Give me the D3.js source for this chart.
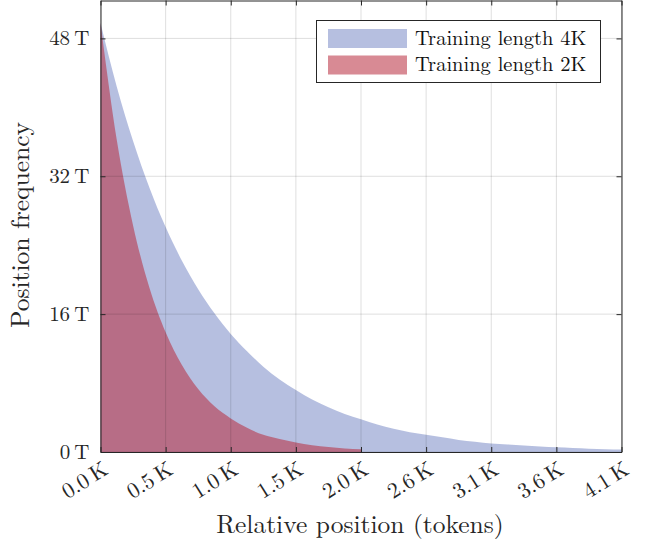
<!DOCTYPE html>
<html>
<head>
<meta charset="utf-8">
<script src="https://cdn.jsdelivr.net/npm/d3@7"></script>
<style>
  body { margin: 0; background: #fff; }
</style>
</head>
<body>
<div id="chart"></div>
<script>
// Data (tokens, trillions)
var positions4k = [0, 128, 256, 384, 512, 640, 768, 896, 1024, 1152, 1280, 1408, 1536, 1664, 1792, 1920, 2048,
    2176, 2304, 2432, 2560, 2688, 2816, 2944, 3072, 3200, 3328, 3456, 3584, 3712, 3840, 3968, 4096];
var freq4k = [49.8, 42.4, 36.1, 30.7, 26.1, 22.2, 18.9, 16.1, 13.7, 11.7, 9.9, 8.4, 7.2, 6.1, 5.2, 4.4, 3.8,
    3.2, 2.7, 2.3, 2.0, 1.7, 1.4, 1.2, 1.0, 0.87, 0.74, 0.63, 0.54, 0.46, 0.39, 0.33, 0.28];

var positions2k = [0, 128, 256, 384, 512, 640, 768, 896, 1024, 1152, 1280, 1408, 1536, 1664, 1792, 1920, 2048];
var freq2k = [49.8, 36.2, 26.3, 19.1, 13.9, 10.1, 7.3, 5.3, 3.9, 2.8, 2.0, 1.5, 1.1, 0.78, 0.57, 0.41, 0.32];

var xTicks = [0, 512, 1024, 1536, 2048, 2560, 3072, 3584, 4096];
var yTicks = [0, 16, 32, 48];
var seriesNames = ["Training length 4K", "Training length 2K"];

var svgWidth = 645, svgHeight = 549;
var margin = { top: 0.5, right: 23.5, bottom: 97, left: 100.5 };
var width = svgWidth - margin.left - margin.right;
var height = svgHeight - margin.top - margin.bottom;

var svg = d3.select("#chart").append("svg")
    .attr("width", svgWidth)
    .attr("height", svgHeight)
    .style("font-family", "'Latin Modern Roman', 'Liberation Serif', serif");

var chartGroup = svg.append("g")
    .attr("transform", `translate(${margin.left}, ${margin.top})`);

var xScale = d3.scaleLinear().domain([0, 4096]).range([0, width]);
var yScale = d3.scaleLinear().domain([0, 52.4]).range([height, 0]);

var blueFill = "rgb(122,138,198)";
var redFill = "rgb(184,41,60)";
var fillOpacity = 0.55;
var ink = "#262626";

// areas
var area = d3.area()
    .curve(d3.curveMonotoneX)
    .x(d => xScale(d[0]))
    .y0(yScale(0))
    .y1(d => yScale(d[1]));

chartGroup.append("path")
    .datum(positions4k.map((p, i) => [p, freq4k[i]]))
    .attr("d", area)
    .attr("fill", blueFill)
    .attr("fill-opacity", fillOpacity);

chartGroup.append("path")
    .datum(positions2k.map((p, i) => [p, freq2k[i]]))
    .attr("d", area)
    .attr("fill", redFill)
    .attr("fill-opacity", fillOpacity);

// grid on top
chartGroup.append("g")
    .selectAll("line")
    .data(xTicks)
    .enter().append("line")
    .attr("x1", d => xScale(d)).attr("x2", d => xScale(d))
    .attr("y1", 0).attr("y2", height)
    .attr("stroke", "#000").attr("stroke-opacity", 0.13);

chartGroup.append("g")
    .selectAll("line")
    .data(yTicks)
    .enter().append("line")
    .attr("y1", d => yScale(d)).attr("y2", d => yScale(d))
    .attr("x1", 0).attr("x2", width)
    .attr("stroke", "#000").attr("stroke-opacity", 0.13);

// axes box, ticks inward on all sides
var bottomAxis = d3.axisBottom(xScale).tickValues(xTicks).tickSizeInner(-5).tickSizeOuter(0).tickFormat("");
var topAxis = d3.axisTop(xScale).tickValues(xTicks).tickSizeInner(-5).tickSizeOuter(0).tickFormat("");
var leftAxis = d3.axisLeft(yScale).tickValues(yTicks).tickSizeInner(-5).tickSizeOuter(0).tickFormat("");
var rightAxis = d3.axisRight(yScale).tickValues(yTicks).tickSizeInner(-5).tickSizeOuter(0).tickFormat("");

chartGroup.append("g").attr("transform", `translate(0, ${height})`).call(bottomAxis);
chartGroup.append("g").call(topAxis);
chartGroup.append("g").call(leftAxis);
chartGroup.append("g").attr("transform", `translate(${width}, 0)`).call(rightAxis);
chartGroup.selectAll(".domain").attr("stroke", ink);
chartGroup.selectAll(".tick line").attr("stroke", ink);

// tick labels
var fmtX = d => (d / 1000).toFixed(1) + "\u2009K";
var fmtY = d => d + "\u2009T";

chartGroup.append("g")
    .selectAll("text")
    .data(xTicks)
    .enter().append("text")
    .attr("transform", d => `translate(${xScale(d) + 9}, ${height + 21}) rotate(-32)`)
    .attr("text-anchor", "end")
    .attr("fill", ink)
    .style("font-size", "22px")
    .text(fmtX);

chartGroup.append("g")
    .selectAll("text")
    .data(yTicks)
    .enter().append("text")
    .attr("x", -11)
    .attr("y", d => yScale(d))
    .attr("dy", "0.33em")
    .attr("text-anchor", "end")
    .attr("fill", ink)
    .style("font-size", "21px")
    .text(fmtY);

// axis titles
svg.append("text")
    .attr("x", 360)
    .attr("y", 533)
    .attr("text-anchor", "middle")
    .attr("fill", ink)
    .style("font-size", "25.5px")
    .text("Relative position (tokens)");

svg.append("text")
    .attr("transform", "rotate(-90)")
    .attr("x", -225)
    .attr("y", 28.5)
    .attr("text-anchor", "middle")
    .attr("fill", ink)
    .style("font-size", "25.5px")
    .text("Position frequency");

// legend
var legend = svg.append("g");
legend.append("rect")
    .attr("x", 316.5).attr("y", 20.5)
    .attr("width", 284).attr("height", 62)
    .attr("fill", "#fff").attr("stroke", ink);

var legendColors = [blueFill, redFill];
seriesNames.forEach((name, i) => {
    legend.append("rect")
        .attr("x", 328).attr("y", 29 + i * 26.5)
        .attr("width", 79).attr("height", 19)
        .attr("fill", legendColors[i]).attr("fill-opacity", fillOpacity);
    legend.append("text")
        .attr("x", 415).attr("y", 45 + i * 25.5)
        .attr("fill", "#111")
        .style("font-size", "20.5px")
        .text(name);
});
</script>
</body>
</html>
